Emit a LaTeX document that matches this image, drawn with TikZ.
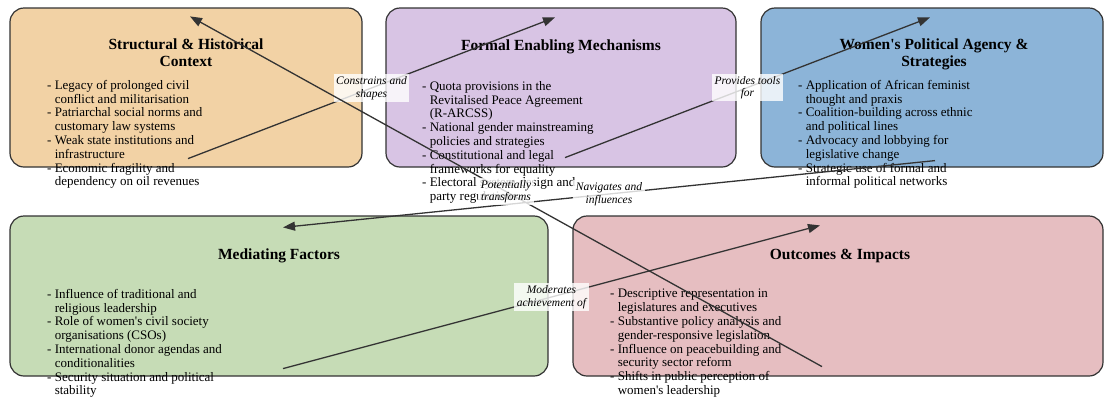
\documentclass[tikz,border=0pt]{standalone}
\usepackage{fontspec}
\setmainfont{Liberation Serif}[Ligatures=TeXOff]
\usetikzlibrary{arrows.meta}
\definecolor{ctxfill}{HTML}{F2D2A5}
\definecolor{formalfill}{HTML}{D8C4E4}
\definecolor{agencyfill}{HTML}{8CB4D8}
\definecolor{medfill}{HTML}{C6DCB6}
\definecolor{outfill}{HTML}{E6BEC1}
\definecolor{boxline}{HTML}{333333}
\newcommand{\indentline}{\hphantom{-\ }}
\begin{document}
\begin{tikzpicture}[x=1pt,y=-1pt]
      \tikzset{panel/.style={draw=boxline, line width=1.2pt, rounded corners=14pt, inner sep=0pt},
               heading/.style={font=\fontsize{15.5}{17}\selectfont\bfseries, align=center, anchor=north, inner sep=0pt},
               items/.style={font=\fontsize{13}{13.8}\selectfont, align=left, anchor=north west, inner sep=0pt},
               link/.style={draw=boxline, line width=1.3pt, -{Triangle[length=12pt,width=9pt]}},
               tag/.style={font=\fontsize{11.5}{12.5}\selectfont\itshape, align=center, fill=white, fill opacity=0.8, text opacity=1, inner sep=2.5pt}}
      \useasboundingbox (0,0) rectangle (1104,400);
%% Panels
      	\node[panel, fill=ctxfill, minimum width=352pt, minimum height=159pt] (ctx) at (186,87.5) {};
      	\node[panel, fill=formalfill, minimum width=350pt, minimum height=159pt] (formal) at (561,87.5) {};
      	\node[panel, fill=agencyfill, minimum width=342pt, minimum height=159pt] (agency) at (932,87.5) {};
      	\node[panel, fill=medfill, minimum width=538pt, minimum height=160pt] (med) at (279,296) {};
      	\node[panel, fill=outfill, minimum width=530pt, minimum height=160pt] (out) at (838,296) {};
%% Headings
      	\node[heading] (ctx-title) at (186,39) {Structural \& Historical\\Context};
      	\node[heading] (formal-title) at (561,40) {Formal Enabling Mechanisms};
      	\node[heading] (agency-title) at (934,39) {Women's Political Agency \&\\Strategies};
      	\node[heading] (med-title) at (279,248.5) {Mediating Factors};
      	\node[heading] (out-title) at (840,248.5) {Outcomes \& Impacts};
%% Lists
      	\node[items] (ctx-list) at (47,80) {- Legacy of prolonged civil\\\indentline conflict and militarisation\\- Patriarchal social norms and\\\indentline customary law systems\\- Weak state institutions and\\\indentline infrastructure\\- Economic fragility and\\\indentline dependency on oil revenues};
      	\node[items] (formal-list) at (422,81) {- Quota provisions in the\\\indentline Revitalised Peace Agreement\\\indentline (R-ARCSS)\\- National gender mainstreaming\\\indentline policies and strategies\\- Constitutional and legal\\\indentline frameworks for equality\\- Electoral system design and\\\indentline party regulations};
      	\node[items] (agency-list) at (798,80) {- Application of African feminist\\\indentline thought and praxis\\- Coalition-building across ethnic\\\indentline and political lines\\- Advocacy and lobbying for\\\indentline legislative change\\- Strategic use of formal and\\\indentline informal political networks};
      	\node[items] (med-list) at (47,289) {- Influence of traditional and\\\indentline religious leadership\\- Role of women's civil society\\\indentline organisations (CSOs)\\- International donor agendas and\\\indentline conditionalities\\- Security situation and political\\\indentline stability};
      	\node[items] (out-list) at (610,289) {- Descriptive representation in\\\indentline legislatures and executives\\- Substantive policy analysis and\\\indentline gender-responsive legislation\\- Influence on peacebuilding and\\\indentline security sector reform\\- Shifts in public perception of\\\indentline women's leadership};
%Links
		\path ([shift={(2,-9)}]ctx.south) edge[link] node[tag, midway] {Constrains and\\shapes} ([shift={(-6,10)}]formal.north);
		\path ([shift={(4,-10)}]formal.south) edge[link] node[tag, midway] {Provides tools\\for} ([shift={(-2,10)}]agency.north);
		\path ([shift={(3,-7)}]agency.south) edge[link] node[tag, midway] {Navigates and\\influences} ([shift={(4,12)}]med.north);
		\path ([shift={(4,-8)}]med.south) edge[link] node[tag, midway] {Moderates\\achievement of} ([shift={(-18,10)}]out.north);
		\path ([shift={(-16,-10)}]out.south) edge[link] node[tag, midway] {Potentially\\transforms} ([shift={(4,9)}]ctx.north);
	\end{tikzpicture}
\end{document}
